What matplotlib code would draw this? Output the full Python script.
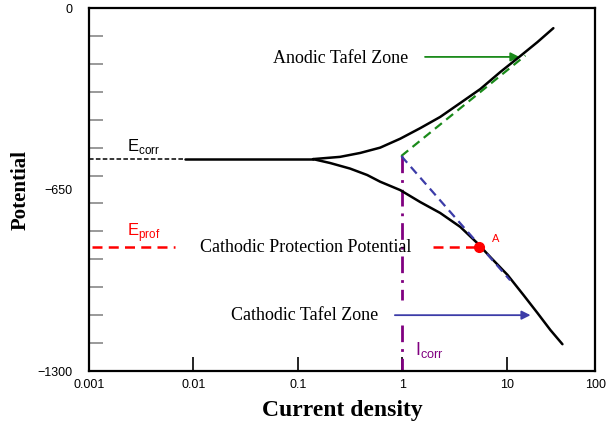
import matplotlib.pyplot as plt
import numpy as np

# values (current density, potential in mV)
flat_i = [0.0083, 0.140]
flat_e = [-541, -541]

anodic_i = [0.140, 0.254, 0.396, 0.615, 0.957, 1.49, 2.31, 3.60, 5.60, 8.70, 13.5, 19.7, 28.0]
anodic_e = [-541, -533, -519, -500, -468, -430, -390, -340, -290, -229, -172, -122, -72]

cathodic_i = [0.140, 0.204, 0.317, 0.462, 0.615, 0.957, 1.49, 2.31, 3.60, 5.24, 6.98,
              10.2, 14.5, 19.7, 26.2, 34.2]
cathodic_e = [-541, -555, -575, -598, -622, -652, -695, -734, -784, -842, -892,
              -956, -1028, -1092, -1153, -1204]

ecorr_i = [0.001, 0.0083]
ecorr_e = [-541, -541]

anodic_tangent_i = [0.98, 15.1]
anodic_tangent_e = [-530, -170]
cathodic_tangent_i = [0.98, 10.8]
cathodic_tangent_e = [-530, -975]

icorr = 1.0
icorr_upper = [-530, -1045]
icorr_lower = [-1135, -1300]

point_a = (5.47, -856)
eprot_left_i = [0.00107, 0.0067]
eprot_right_i = [1.98, 5.3]

xtick_vals = [0.001, 0.01, 0.1, 1, 10]
xtick_labels = ["0.001", "0.01", "0.1", "1", "10"]
x_max = 10 ** 1.848
ytick_vals = [0, -650, -1300]
ytick_labels = ["0", "\u2212650", "\u22121300"]
yminor_vals = [-100 * k for k in range(1, 13)]

green = "#1a8a1a"
blue = "#3c3ca8"
purple = "#800080"
red = "#ff0000"

fig = plt.figure(figsize=(6.13, 4.24), dpi=100)
ax = fig.add_axes([0.145, 0.125, 0.826, 0.856])
ax.set_xscale("log")
ax.set_xlim(0.001, x_max)
ax.set_ylim(-1300, 0)

curve = dict(color="black", lw=1.8, zorder=4, solid_joinstyle="round",
             solid_capstyle="round")
ax.plot(flat_i, flat_e, **curve)
ax.plot(anodic_i, anodic_e, **curve)
ax.plot(cathodic_i, cathodic_e, **curve)
ax.plot(ecorr_i, ecorr_e, color="black", lw=1.1, ls=(0, (3, 1.5)))

ax.plot(anodic_tangent_i, anodic_tangent_e, color=green, lw=1.6, ls=(0, (4, 2.5)), zorder=5)
ax.plot(cathodic_tangent_i, cathodic_tangent_e, color=blue, lw=1.6, ls=(0, (4, 2.5)), zorder=5)
ax.plot([icorr, icorr], icorr_upper, color=purple, lw=2.0, ls=(0, (6, 2.5, 1, 2.5)))
ax.plot([icorr, icorr], icorr_lower, color=purple, lw=2.0, ls=(0, (6, 2.5, 1, 2.5)))

ax.plot(eprot_left_i, [point_a[1]] * 2, color=red, lw=1.8, ls=(0, (4, 2.5)))
ax.plot(eprot_right_i, [point_a[1]] * 2, color=red, lw=1.8, ls=(0, (4, 2.5)))
ax.plot(*point_a, "o", color=red, ms=7, zorder=6)

ax.text(0.26, -179, "Anodic Tafel Zone", family="Liberation Serif", fontsize=13,
        ha="center", va="center")
ax.annotate("", xy=(14.1, -175), xytext=(1.555, -175),
            arrowprops=dict(arrowstyle="-|>", color=green, lw=1.3, mutation_scale=13))
ax.text(0.117, -1100, "Cathodic Tafel Zone", family="Liberation Serif", fontsize=13,
        ha="center", va="center")
ax.annotate("", xy=(18.0, -1100), xytext=(0.8, -1100),
            arrowprops=dict(arrowstyle="-|>", color=blue, lw=1.3, mutation_scale=13))
ax.text(0.12, -857, "Cathodic Protection Potential", family="Liberation Serif",
        fontsize=13, ha="center", va="center")

ax.text(0.0023, -497, r"E$_{\mathregular{corr}}$", family="Liberation Sans",
        fontsize=12, ha="left", va="center")
ax.text(0.0023, -805, r"E$_{\mathregular{prof}}$", family="Liberation Sans",
        fontsize=12, ha="left", va="center", color=red)
ax.text(1.33, -1225, r"I$_{\mathregular{corr}}$", family="Liberation Sans",
        fontsize=13, ha="left", va="center", color=purple)
ax.text(7.3, -827, "A", family="Liberation Sans", fontsize=8, color=red,
        ha="left", va="center")

ax.set_xticks(xtick_vals)
ax.set_xticklabels(xtick_labels, family="Liberation Sans", fontsize=9)
ax.xaxis.set_minor_locator(plt.NullLocator())
ax.tick_params(axis="x", direction="in", length=10, width=1.2, pad=6)
# the picture labels its right edge "100"
ax.annotate("100", xy=(1.0, 0.0), xycoords="axes fraction", xytext=(0, -6),
            textcoords="offset points", ha="center", va="top",
            family="Liberation Sans", fontsize=9)

ax.set_yticks(ytick_vals)
ax.set_yticklabels(ytick_labels, family="Liberation Sans", fontsize=9)
ax.set_yticks(yminor_vals, minor=True)
ax.tick_params(axis="y", which="major", length=0, pad=12)
ax.tick_params(axis="y", which="minor", direction="in", length=10, width=1.2,
               color="#888888")

for s in ax.spines.values():
    s.set_linewidth(1.6)

ax.set_xlabel("Current density", family="Liberation Serif", fontsize=17,
              fontweight="bold", labelpad=6)
ax.set_ylabel("Potential", family="Liberation Serif", fontsize=15,
              fontweight="bold", labelpad=5)

fig.savefig("out.png", dpi=100)
